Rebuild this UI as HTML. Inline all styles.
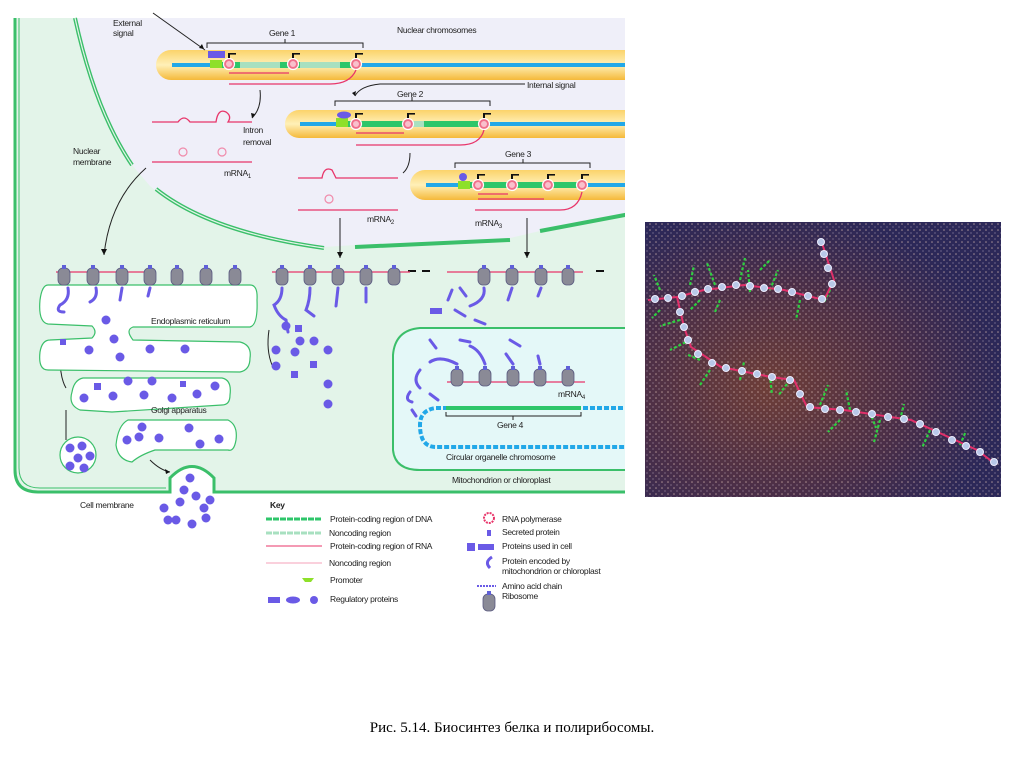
<!DOCTYPE html>
<html><head><meta charset="utf-8"><style>
html,body{margin:0;padding:0;background:#fff;}
svg{display:block}
text{font-family:"Liberation Sans",sans-serif;font-size:8.5px;fill:#222;letter-spacing:-0.3px}
</style></head><body>
<svg width="1024" height="767" viewBox="0 0 1024 767" xmlns="http://www.w3.org/2000/svg">
<defs>
<clipPath id="cl"><rect x="0" y="0" width="625" height="767"/></clipPath>
<linearGradient id="chr" x1="0" y1="0" x2="0" y2="1">
<stop offset="0" stop-color="#fbd36a"/><stop offset="0.5" stop-color="#fff0b8"/><stop offset="1" stop-color="#f5b93a"/></linearGradient>
<radialGradient id="ph1" cx="0.35" cy="0.6" r="0.65"><stop offset="0" stop-color="#6e3e38"/><stop offset="0.6" stop-color="#4a2e48"/><stop offset="1" stop-color="#2c2858"/></radialGradient>
<pattern id="dots" width="6" height="6" patternUnits="userSpaceOnUse"><circle cx="2" cy="2" r="0.8" fill="#d8b8b0" opacity="0.7"/><circle cx="5" cy="5" r="0.6" fill="#e0d0e0" opacity="0.6"/></pattern>
<g id="rib"><rect x="-6" y="-7" width="12" height="17" rx="5" fill="#8a8a96" stroke="#5a5a80" stroke-width="0.8"/><rect x="-2" y="-10" width="4" height="4" fill="#6060d8"/></g>
<g id="pol"><circle r="5.5" fill="#f0708a" stroke="#fff" stroke-width="1.2"/><circle r="3" fill="#f9c0cc"/><rect x="-1" y="-11" width="2" height="5" fill="#111"/><rect x="-1" y="-11" width="8" height="1.6" fill="#111"/></g>
<g id="blob"><circle r="4.5" fill="#6a5ae6"/></g>
</defs>

<g clip-path="url(#cl)">
<!-- cell -->
<path d="M15,18 L15,470 Q15,492 38,492 L170,492 L170,478 Q192,455 214,478 L214,492 L630,492 L630,18 Z" fill="#e3f4e9"/>
<path d="M15,18 L15,470 Q15,492 38,492 L170,492 L170,478 Q192,455 214,478 L214,492 L630,492" fill="none" stroke="#3bbf6a" stroke-width="3"/>
<path d="M19,18 L19,468 Q19,488 40,488 L166,488" fill="none" stroke="#3bbf6a" stroke-width="1"/>
<!-- nucleus -->
<path d="M75,18 Q95,110 132,165 L150,186 Q200,230 324,247 L355,245 L510,238 L540,231 L630,213 L630,18 Z" fill="#efeff9"/>
<path d="M75,18 Q95,110 132,165" fill="none" stroke="#3bbf6a" stroke-width="4"/>
<path d="M75,18 Q95,110 132,165" fill="none" stroke="#e3f4e9" stroke-width="1.2"/>
<path d="M156,189 Q210,232 324,248" fill="none" stroke="#3bbf6a" stroke-width="4"/>
<path d="M156,189 Q210,232 324,248" fill="none" stroke="#e3f4e9" stroke-width="1.2"/>
<path d="M355,247 L510,240" fill="none" stroke="#3bbf6a" stroke-width="4"/>
<path d="M540,231 L630,214" fill="none" stroke="#3bbf6a" stroke-width="4"/>

<!-- chromosomes -->
<rect x="156" y="50" width="490" height="30" rx="15" fill="url(#chr)"/>
<rect x="285" y="110" width="360" height="28" rx="14" fill="url(#chr)"/>
<rect x="410" y="170" width="240" height="30" rx="15" fill="url(#chr)"/>
<rect x="172" y="63" width="460" height="4" fill="#22a8e8"/>
<rect x="210" y="62" width="146" height="6" fill="#2ec66a"/>
<rect x="240" y="62" width="40" height="6" fill="#a8e0c0"/><rect x="300" y="62" width="40" height="6" fill="#a8e0c0"/>
<rect x="210" y="60" width="12" height="8" fill="#8ee02a"/>
<rect x="208" y="51" width="17" height="7" fill="#6a5ae6"/>
<rect x="300" y="122" width="330" height="4" fill="#22a8e8"/>
<rect x="336" y="121" width="150" height="6" fill="#2ec66a"/><rect x="410" y="121" width="14" height="6" fill="#a8e0c0"/>
<rect x="336" y="118" width="12" height="9" fill="#8ee02a"/>
<ellipse cx="344" cy="115" rx="7" ry="3.5" fill="#6a5ae6"/>
<rect x="426" y="183" width="204" height="4" fill="#22a8e8"/>
<rect x="458" y="182" width="125" height="6" fill="#2ec66a"/>
<rect x="458" y="181" width="12" height="8" fill="#8ee02a"/>
<circle cx="463" cy="177" r="4" fill="#6a5ae6"/>
<use href="#pol" x="229" y="64"/><use href="#pol" x="293" y="64"/><use href="#pol" x="356" y="64"/>
<use href="#pol" x="356" y="124"/><use href="#pol" x="408" y="124"/><use href="#pol" x="484" y="124"/>
<use href="#pol" x="478" y="185"/><use href="#pol" x="512" y="185"/><use href="#pol" x="548" y="185"/><use href="#pol" x="582" y="185"/>
<g fill="none" stroke="#e8356a" stroke-width="1.3">
<path d="M229,73 L289,73"/><path d="M229,84 L330,84 Q350,84 356,70"/>
<path d="M356,133 L404,133"/><path d="M356,145 L460,145 Q480,145 484,130"/>
<path d="M478,194 L508,194"/><path d="M478,199 L544,199"/><path d="M475,210 L560,210 Q578,210 582,192"/>
<path d="M152,122 L178,122 Q184,114 190,122 L216,122 Q218,108 226,112 Q232,116 228,122 L252,122"/>
<path d="M152,162 L252,162"/>
<path d="M298,178 L322,178 Q324,166 332,170 L336,178 L398,178"/>
<path d="M298,210 L398,210"/>
</g>
<g fill="none" stroke="#f08aaa" stroke-width="1.2"><circle cx="183" cy="152" r="4"/><circle cx="222" cy="152" r="4"/><circle cx="329" cy="199" r="4"/></g>
<g fill="none" stroke="#222" stroke-width="1"><path d="M207,48 V43 H363 V48 M285,43 V39"/><path d="M335,106 V101 H490 V106 M412,101 V97"/><path d="M455,168 V163 H590 V168 M523,163 V159"/>
<path d="M153,13 L205,50"/><path d="M260,90 Q262,108 252,118"/><path d="M525,84 L380,84 Q360,86 355,96"/><path d="M410,153 Q410,167 403,173"/>
<path d="M146,168 Q110,200 104,255"/><path d="M340,218 V258"/><path d="M527,218 V258"/><path d="M60,357 Q60,378 66,388"/><path d="M66,410 V440"/><path d="M150,460 Q160,470 170,472"/><path d="M432,330 L445,360"/><path d="M269,330 Q266,350 272,365"/></g>
<g fill="#111"><path d="M204,49 l-5,-1 3,-4z"/><path d="M252,118 l-1,-5 4,1z"/><path d="M355,96 l-3,-3 4,-2z"/><path d="M104,255 l-3,-6 6,0z"/><path d="M340,258 l-3,-6 6,0z"/><path d="M527,258 l-3,-6 6,0z"/><path d="M170,472 l-5,-3 1,5z"/>
<rect x="408" y="270" width="8" height="2"/><rect x="422" y="270" width="8" height="2"/><rect x="596" y="270" width="8" height="2"/><rect x="596" y="382" width="8" height="2"/></g>
<text x="113" y="26">External</text><text x="113" y="36">signal</text>
<text x="269" y="36">Gene 1</text><text x="397" y="33">Nuclear chromosomes</text>
<text x="527" y="88">Internal signal</text><text x="397" y="97">Gene 2</text>
<text x="243" y="133">Intron</text><text x="243" y="145">removal</text>
<text x="73" y="154">Nuclear</text><text x="73" y="165">membrane</text>
<text x="224" y="176">mRNA<tspan font-size="6" dy="2">1</tspan></text>
<text x="505" y="157">Gene 3</text>
<text x="367" y="222">mRNA<tspan font-size="6" dy="2">2</tspan></text><text x="475" y="226">mRNA<tspan font-size="6" dy="2">3</tspan></text>

<!-- ER -->
<path d="M48,285 L250,285 Q258,285 257,300 Q258,325 250,327 L133,327 Q125,330 133,340 L240,342 Q252,345 250,358 Q250,370 240,372 L48,370 Q38,370 40,352 Q42,340 50,340 L92,338 Q98,332 92,326 L48,324 Q38,322 40,300 Q42,285 48,285Z" fill="#fff" stroke="#3bbf6a" stroke-width="1.2"/>
<path d="M83,378 L222,378 Q232,380 230,395 Q230,405 222,405 L112,412 L80,410 Q68,405 72,392 Q74,380 83,378Z" fill="#fff" stroke="#3bbf6a" stroke-width="1.2"/>
<path d="M128,420 L228,420 Q238,425 236,440 Q234,452 228,450 L155,450 Q140,455 132,462 Q118,460 116,445 Q118,425 128,420Z" fill="#fff" stroke="#3bbf6a" stroke-width="1.2"/>
<circle cx="78" cy="455" r="18" fill="#fff" stroke="#3bbf6a" stroke-width="1.2"/>
<text x="151" y="324">Endoplasmic reticulum</text><text x="151" y="413">Golgi apparatus</text>
<!-- mitochondrion -->
<path d="M630,328 L420,328 Q395,330 393,355 L393,450 Q395,470 420,470 L630,470 Z" fill="#e4f8f8" stroke="#3bbf6a" stroke-width="2"/>
<path d="M630,408 L436,408 Q420,410 420,425 Q420,447 436,447 L630,447" fill="none" stroke="#22a8e8" stroke-width="4" stroke-dasharray="5,2"/>
<rect x="446" y="406" width="135" height="4" fill="#2ec66a"/>
<path d="M446,412 V416 H581 V412 M513,416 V420" fill="none" stroke="#222"/>
<text x="497" y="428">Gene 4</text><text x="446" y="460">Circular organelle chromosome</text>
<text x="452" y="483">Mitochondrion or chloroplast</text>
<path d="M447,382 L585,382" stroke="#e8356a" stroke-width="1.3"/>
<use href="#rib" x="457" y="376"/><use href="#rib" x="485" y="376"/><use href="#rib" x="513" y="376"/><use href="#rib" x="540" y="376"/><use href="#rib" x="568" y="376"/>
<text x="558" y="397">mRNA<tspan font-size="6" dy="2">4</tspan></text>
</g>
<text x="80" y="508">Cell membrane</text>

<g stroke="#e8356a" stroke-width="1.3"><path d="M56,272 L156,272"/><path d="M272,272 L410,272"/><path d="M447,272 L583,272"/></g>
<use href="#rib" x="64" y="275"/><use href="#rib" x="93" y="275"/><use href="#rib" x="122" y="275"/><use href="#rib" x="150" y="275"/><use href="#rib" x="177" y="275"/><use href="#rib" x="206" y="275"/><use href="#rib" x="235" y="275"/>
<use href="#rib" x="282" y="275"/><use href="#rib" x="310" y="275"/><use href="#rib" x="338" y="275"/><use href="#rib" x="366" y="275"/><use href="#rib" x="394" y="275"/>
<use href="#rib" x="484" y="275"/><use href="#rib" x="512" y="275"/><use href="#rib" x="541" y="275"/><use href="#rib" x="568" y="275"/>
<g fill="none" stroke="#6a5ae6" stroke-width="3" stroke-linecap="round">
<path d="M68,288 Q70,300 60,305 Q55,312 64,312"/><path d="M96,288 Q98,298 90,302"/><path d="M122,288 L120,300"/><path d="M150,288 L148,296"/>
<path d="M282,288 Q282,300 274,305 Q278,316 286,320 L288,332"/><path d="M310,288 Q310,300 306,310 L314,316"/><path d="M338,288 L336,306"/><path d="M366,288 L366,302"/>
<path d="M484,288 Q486,300 470,306"/><path d="M512,288 L508,300"/><path d="M541,288 L538,296"/>
<path d="M457,364 Q440,355 430,362"/><path d="M485,364 Q480,350 470,346"/><path d="M513,364 L506,354"/><path d="M540,364 L538,356"/>
<path d="M452,290 L448,300"/><path d="M460,288 L466,296"/><path d="M455,310 L465,316"/><path d="M475,320 L485,324"/><path d="M430,340 L436,348"/><path d="M510,340 L520,346"/><path d="M460,340 L470,342"/><path d="M420,370 Q412,380 420,388"/><path d="M430,394 L438,400"/><path d="M412,410 L416,416"/><path d="M410,392 Q404,400 412,402"/>
</g>
<rect x="430" y="308" width="12" height="6" fill="#6a5ae6"/>
<g fill="#6a5ae6">
<use href="#blob" x="106" y="320"/><use href="#blob" x="114" y="339"/><use href="#blob" x="120" y="357"/><rect x="60" y="339" width="6" height="6"/><use href="#blob" x="89" y="350"/><use href="#blob" x="150" y="349"/><use href="#blob" x="185" y="349"/>
<use href="#blob" x="84" y="398"/><use href="#blob" x="113" y="396"/><use href="#blob" x="144" y="395"/><use href="#blob" x="172" y="398"/><use href="#blob" x="197" y="394"/><use href="#blob" x="128" y="381"/><use href="#blob" x="152" y="381"/><rect x="94" y="383" width="7" height="7"/><rect x="180" y="381" width="6" height="6"/><use href="#blob" x="215" y="386"/>
<use href="#blob" x="127" y="440"/><use href="#blob" x="139" y="437"/><use href="#blob" x="159" y="438"/><use href="#blob" x="142" y="427"/><use href="#blob" x="200" y="444"/><use href="#blob" x="219" y="439"/><use href="#blob" x="189" y="428"/>
<use href="#blob" x="70" y="448"/><use href="#blob" x="82" y="446"/><use href="#blob" x="78" y="458"/><use href="#blob" x="90" y="456"/><use href="#blob" x="70" y="466"/><use href="#blob" x="84" y="468"/>
<use href="#blob" x="190" y="478"/><use href="#blob" x="184" y="490"/><use href="#blob" x="196" y="496"/><use href="#blob" x="180" y="502"/><use href="#blob" x="204" y="508"/><use href="#blob" x="164" y="508"/><use href="#blob" x="210" y="500"/><use href="#blob" x="176" y="520"/><use href="#blob" x="192" y="524"/><use href="#blob" x="206" y="518"/><use href="#blob" x="168" y="520"/>
<use href="#blob" x="286" y="326"/><rect x="295" y="325" width="7" height="7"/><use href="#blob" x="300" y="341"/><use href="#blob" x="276" y="350"/><use href="#blob" x="295" y="352"/><use href="#blob" x="328" y="350"/><use href="#blob" x="314" y="341"/><use href="#blob" x="276" y="366"/><rect x="310" y="361" width="7" height="7"/><rect x="291" y="371" width="7" height="7"/><use href="#blob" x="328" y="384"/><use href="#blob" x="328" y="404"/>
</g>

<text x="270" y="508" style="font-weight:bold">Key</text>
<path d="M266,519 H322" stroke="#2ec66a" stroke-width="3" stroke-dasharray="6,1"/>
<path d="M266,533 H322" stroke="#a8e0c0" stroke-width="3" stroke-dasharray="6,1"/>
<path d="M266,546 H322" stroke="#e8356a" stroke-width="1"/>
<path d="M266,563 H322" stroke="#f5a0b8" stroke-width="1"/>
<path d="M302,578 H314 L311,582 H305Z" fill="#8ee02a"/>
<rect x="268" y="597" width="12" height="6" fill="#6a5ae6"/><ellipse cx="293" cy="600" rx="7" ry="3.5" fill="#6a5ae6"/><circle cx="314" cy="600" r="4" fill="#6a5ae6"/>
<text x="330" y="522">Protein-coding region of DNA</text><text x="329" y="536">Noncoding region</text><text x="330" y="549">Protein-coding region of RNA</text><text x="329" y="566">Noncoding region</text><text x="330" y="583">Promoter</text><text x="330" y="602">Regulatory proteins</text>
<circle cx="489" cy="518" r="5" fill="none" stroke="#e8356a" stroke-width="2" stroke-dasharray="2,1"/>
<rect x="487" y="530" width="4" height="6" fill="#6a5ae6"/>
<rect x="467" y="543" width="8" height="8" fill="#6a5ae6"/><rect x="478" y="544" width="16" height="6" fill="#6a5ae6"/>
<path d="M492,557 Q484,562 490,568" fill="none" stroke="#6a5ae6" stroke-width="3"/>
<path d="M477,586 H496" stroke="#6a5ae6" stroke-width="2" stroke-dasharray="2,1"/>
<use href="#rib" x="489" y="601"/>
<text x="502" y="522">RNA polymerase</text><text x="502" y="535">Secreted protein</text><text x="502" y="549">Proteins used in cell</text><text x="502" y="564">Protein encoded by</text><text x="502" y="574">mitochondrion or chloroplast</text><text x="502" y="589">Amino acid chain</text><text x="502" y="599">Ribosome</text>

<!-- photo -->
<rect x="645" y="222" width="356" height="275" fill="url(#ph1)"/>
<rect x="645" y="222" width="356" height="275" fill="url(#dots)"/>
<g fill="none" stroke="#2ed040" stroke-width="2.2" stroke-dasharray="3,2">
<path d="M660,290 l-6,-15 M690,285 l4,-20 M715,285 l-8,-22 M740,280 l5,-22 M770,290 l8,-20 M800,300 l-4,20 M680,320 l-20,6 M690,340 l-20,10 M710,370 l-10,15 M740,380 l4,-18 M770,375 l2,20 M790,380 l-12,16 M820,405 l8,-20 M850,410 l-4,-20 M870,412 l6,16 M900,420 l4,-16 M930,430 l-8,18 M960,445 l6,-14 M720,300 l-5,12 M750,292 l-2,-22 M830,290 l-6,12 M700,360 l-14,-6 M840,420 l-12,12 M880,420 l-6,22 M700,300 l-10,10 M760,270 l10,-10 M660,310 l-8,8"/>
</g>
<path d="M648,300 L677,297 L704,290 L744,285 L784,290 L824,300 L834,280 L821,240 M677,297 L684,327 L691,347 L721,367 L771,377 L794,380 L807,407 L844,410 L911,420 L977,450 L994,463" fill="none" stroke="#e0306a" stroke-width="2"/>
<g fill="#b8c8e8" stroke="#eef" stroke-width="1">
<circle cx="655" cy="299" r="3.5"/><circle cx="668" cy="298" r="3.5"/><circle cx="682" cy="296" r="3.5"/><circle cx="695" cy="292" r="3.5"/><circle cx="708" cy="289" r="3.5"/><circle cx="722" cy="287" r="3.5"/><circle cx="736" cy="285" r="3.5"/><circle cx="750" cy="286" r="3.5"/><circle cx="764" cy="288" r="3.5"/><circle cx="778" cy="289" r="3.5"/><circle cx="792" cy="292" r="3.5"/><circle cx="808" cy="296" r="3.5"/><circle cx="822" cy="299" r="3.5"/><circle cx="832" cy="284" r="3.5"/><circle cx="828" cy="268" r="3.5"/><circle cx="824" cy="254" r="3.5"/><circle cx="821" cy="242" r="3.5"/>
<circle cx="680" cy="312" r="3.5"/><circle cx="684" cy="327" r="3.5"/><circle cx="688" cy="340" r="3.5"/><circle cx="698" cy="354" r="3.5"/><circle cx="712" cy="363" r="3.5"/><circle cx="726" cy="368" r="3.5"/><circle cx="742" cy="371" r="3.5"/><circle cx="757" cy="374" r="3.5"/><circle cx="772" cy="377" r="3.5"/><circle cx="790" cy="380" r="3.5"/><circle cx="800" cy="394" r="3.5"/><circle cx="810" cy="407" r="3.5"/><circle cx="825" cy="409" r="3.5"/><circle cx="840" cy="410" r="3.5"/><circle cx="856" cy="412" r="3.5"/><circle cx="872" cy="414" r="3.5"/><circle cx="888" cy="417" r="3.5"/><circle cx="904" cy="419" r="3.5"/><circle cx="920" cy="424" r="3.5"/><circle cx="936" cy="432" r="3.5"/><circle cx="952" cy="440" r="3.5"/><circle cx="966" cy="446" r="3.5"/><circle cx="980" cy="452" r="3.5"/><circle cx="994" cy="462" r="3.5"/>
</g>

<text x="512" y="732" text-anchor="middle" style="font-family:'Liberation Serif',serif;font-size:15px;letter-spacing:0;fill:#000">Рис. 5.14. Биосинтез белка и полирибосомы.</text>
</svg>
</body></html>
